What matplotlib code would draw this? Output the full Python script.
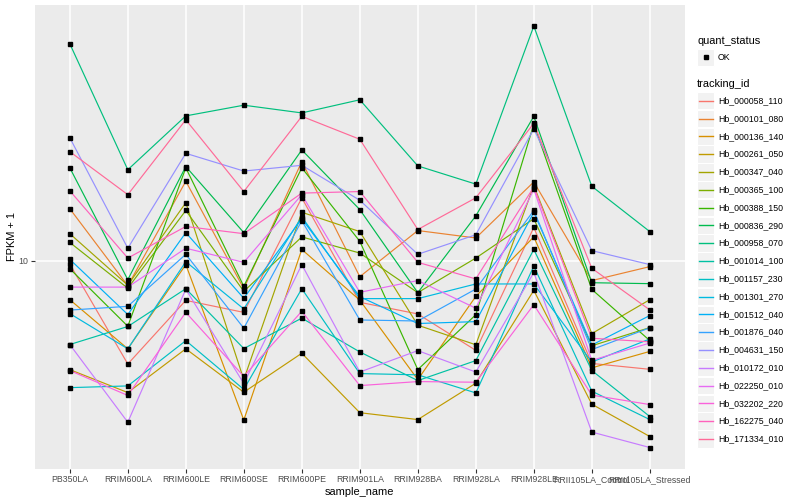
import numpy as np
import matplotlib.pyplot as plt
from matplotlib.lines import Line2D
from matplotlib.patches import Rectangle

plt.rcParams['font.family'] = ['Liberation Sans', 'DejaVu Sans']

samples = ["PB350LA", "RRIM600LA", "RRIM600LE", "RRIM600SE", "RRIM600PE",
           "RRIM901LA", "RRIM928BA", "RRIM928LA", "RRIM928LE",
           "RRII105LA_Control", "RRII105LA_Stressed"]

tracking_ids = ["Hb_000058_110", "Hb_000101_080", "Hb_000136_140", "Hb_000261_050",
                "Hb_000347_040", "Hb_000365_100", "Hb_000388_150", "Hb_000836_290",
                "Hb_000958_070", "Hb_001014_100", "Hb_001157_230", "Hb_001301_270",
                "Hb_001512_040", "Hb_001876_040", "Hb_004631_150", "Hb_010172_010",
                "Hb_022250_010", "Hb_032202_220", "Hb_162275_040", "Hb_171334_010"]

# ggplot hue palette for 20 levels
colours = ["#F8766D", "#EA8331", "#D89000", "#C09B00", "#A3A500", "#7CAE00",
           "#39B600", "#00BB4E", "#00BF7D", "#00C1A3", "#00BFC4", "#00BAE0",
           "#00B0F6", "#35A2FF", "#9590FF", "#C77CFF", "#E76BF3", "#FA62DB",
           "#FF62BC", "#FF6A98"]

# FPKM + 1, one row per tracking_id, one value per sample
fpkm = [
    [9.73, 4.52, 7.37, 6.72, 16.2, 7.26, 6.64, 5.02, 12.9, 4.54, 4.34],
    [14.9, 8.25, 18.4, 8.06, 21.4, 8.84, 12.6, 11.9, 18.3, 8.58, 9.55],
    [7.41, 5.08, 9.70, 2.94, 10.9, 7.38, 4.01, 7.60, 12.0, 4.39, 4.98],
    [4.33, 3.63, 5.08, 3.64, 4.91, 3.11, 2.95, 3.90, 7.96, 3.32, 2.59],
    [12.3, 8.28, 15.6, 4.01, 14.5, 12.5, 6.09, 5.24, 17.8, 5.71, 7.41],
    [11.5, 8.09, 14.7, 7.90, 12.0, 10.6, 7.82, 10.2, 13.8, 5.20, 5.98],
    [9.40, 6.04, 20.4, 8.21, 20.4, 11.6, 4.33, 6.60, 28.5, 8.02, 5.41],
    [20.4, 8.64, 20.6, 12.4, 23.4, 14.8, 7.82, 14.1, 30.3, 8.44, 8.38],
    [52.9, 20.1, 30.4, 33.0, 31.1, 34.4, 20.7, 18.0, 60.6, 17.7, 12.5],
    [5.25, 6.03, 8.06, 5.09, 6.43, 4.96, 3.98, 4.64, 10.9, 4.30, 3.02],
    [3.77, 3.82, 5.41, 3.72, 8.06, 4.20, 4.16, 3.62, 9.59, 3.67, 2.95],
    [6.66, 5.08, 9.92, 6.90, 14.0, 7.47, 7.47, 8.36, 8.36, 4.59, 5.48],
    [10.1, 6.61, 12.4, 7.49, 13.8, 7.58, 6.17, 6.26, 14.5, 5.23, 6.56],
    [6.84, 7.04, 10.5, 5.95, 13.6, 6.34, 6.29, 8.04, 14.7, 5.05, 5.97],
    [25.7, 11.0, 22.8, 19.9, 20.8, 15.9, 10.5, 12.2, 27.5, 10.8, 9.70],
    [5.25, 2.89, 8.03, 3.89, 9.70, 4.25, 5.01, 4.25, 9.13, 2.68, 2.38],
    [8.16, 8.16, 11.0, 9.87, 16.6, 7.84, 8.58, 6.94, 17.3, 4.65, 5.31],
    [4.30, 3.55, 6.72, 4.11, 6.78, 3.83, 3.95, 3.93, 7.13, 3.56, 3.31],
    [17.1, 10.2, 13.0, 12.3, 16.8, 17.0, 9.87, 8.69, 17.6, 5.51, 5.36],
    [23.1, 16.6, 29.5, 17.0, 30.3, 25.4, 12.7, 16.2, 28.7, 9.43, 6.85],
]

W, H = 800, 500


def fx(p):
    return p / W


def fy(p):
    return 1 - p / H


fig = plt.figure(figsize=(8, 5), dpi=100)
ax = fig.add_axes([fx(35), fy(468.6), (684.6 - 35) / W, (468.6 - 5) / H])
ax.set_facecolor('#EBEBEB')

x = np.arange(len(samples))
for col, vals in zip(colours, fpkm):
    ax.plot(x, vals, color=col, lw=0.85, zorder=2)
for vals in fpkm:
    ax.plot(x, vals, 's', color='black', ms=2.3, zorder=3)

ax.set_yscale('log')
lo, hi = np.log10(np.min(fpkm)), np.log10(np.max(fpkm))
pad = 0.05 * (hi - lo)
ax.set_ylim(10 ** (lo - pad), 10 ** (hi + pad))
ax.set_xlim(-0.6, len(samples) - 0.4)
ax.set_yticks([10])
ax.set_yticklabels(['10'])
ax.yaxis.set_minor_locator(plt.NullLocator())
ax.set_xticks(x)
ax.set_xticklabels(samples)
ax.grid(True, color='white', lw=1.1)
ax.set_axisbelow(True)
for s in ax.spines.values():
    s.set_visible(False)
ax.tick_params(length=2.8, width=0.8, color='#333333', labelsize=6.3,
               labelcolor='#4D4D4D', pad=2)
ax.set_xlabel('sample_name', fontsize=7.9, labelpad=2)
ax.set_ylabel('FPKM + 1', fontsize=7.9, labelpad=1)

# legends
key = 17.3
fig.text(fx(697), fy(40.7), 'quant_status', fontsize=7.9, va='center', ha='left')
fig.add_artist(Rectangle((fx(697), fy(57.3 + key / 2)), key / W, key / H,
                         facecolor='#F2F2F2', edgecolor='white', lw=0.8,
                         transform=fig.transFigure))
fig.add_artist(Line2D([fx(697 + key / 2)], [fy(57.3)], marker='s', color='black',
                      ms=2.3, transform=fig.transFigure))
fig.text(fx(718), fy(57.3), 'OK', fontsize=6.3, va='center', ha='left')

fig.text(fx(697), fy(84.3), 'tracking_id', fontsize=7.9, va='center', ha='left')
for i, (tid, col) in enumerate(zip(tracking_ids, colours)):
    yc = 100.7 + 17.8 * i
    fig.add_artist(Rectangle((fx(697), fy(yc + key / 2)), key / W, key / H,
                             facecolor='#F2F2F2', edgecolor='white', lw=0.8,
                             transform=fig.transFigure, zorder=1))
    fig.add_artist(Line2D([fx(698.5), fx(712.8)], [fy(yc), fy(yc)], color=col,
                          lw=1.0, transform=fig.transFigure, zorder=2))
    fig.text(fx(718), fy(yc), tid, fontsize=6.3, va='center', ha='left')

fig.savefig('out.png', dpi=100)
